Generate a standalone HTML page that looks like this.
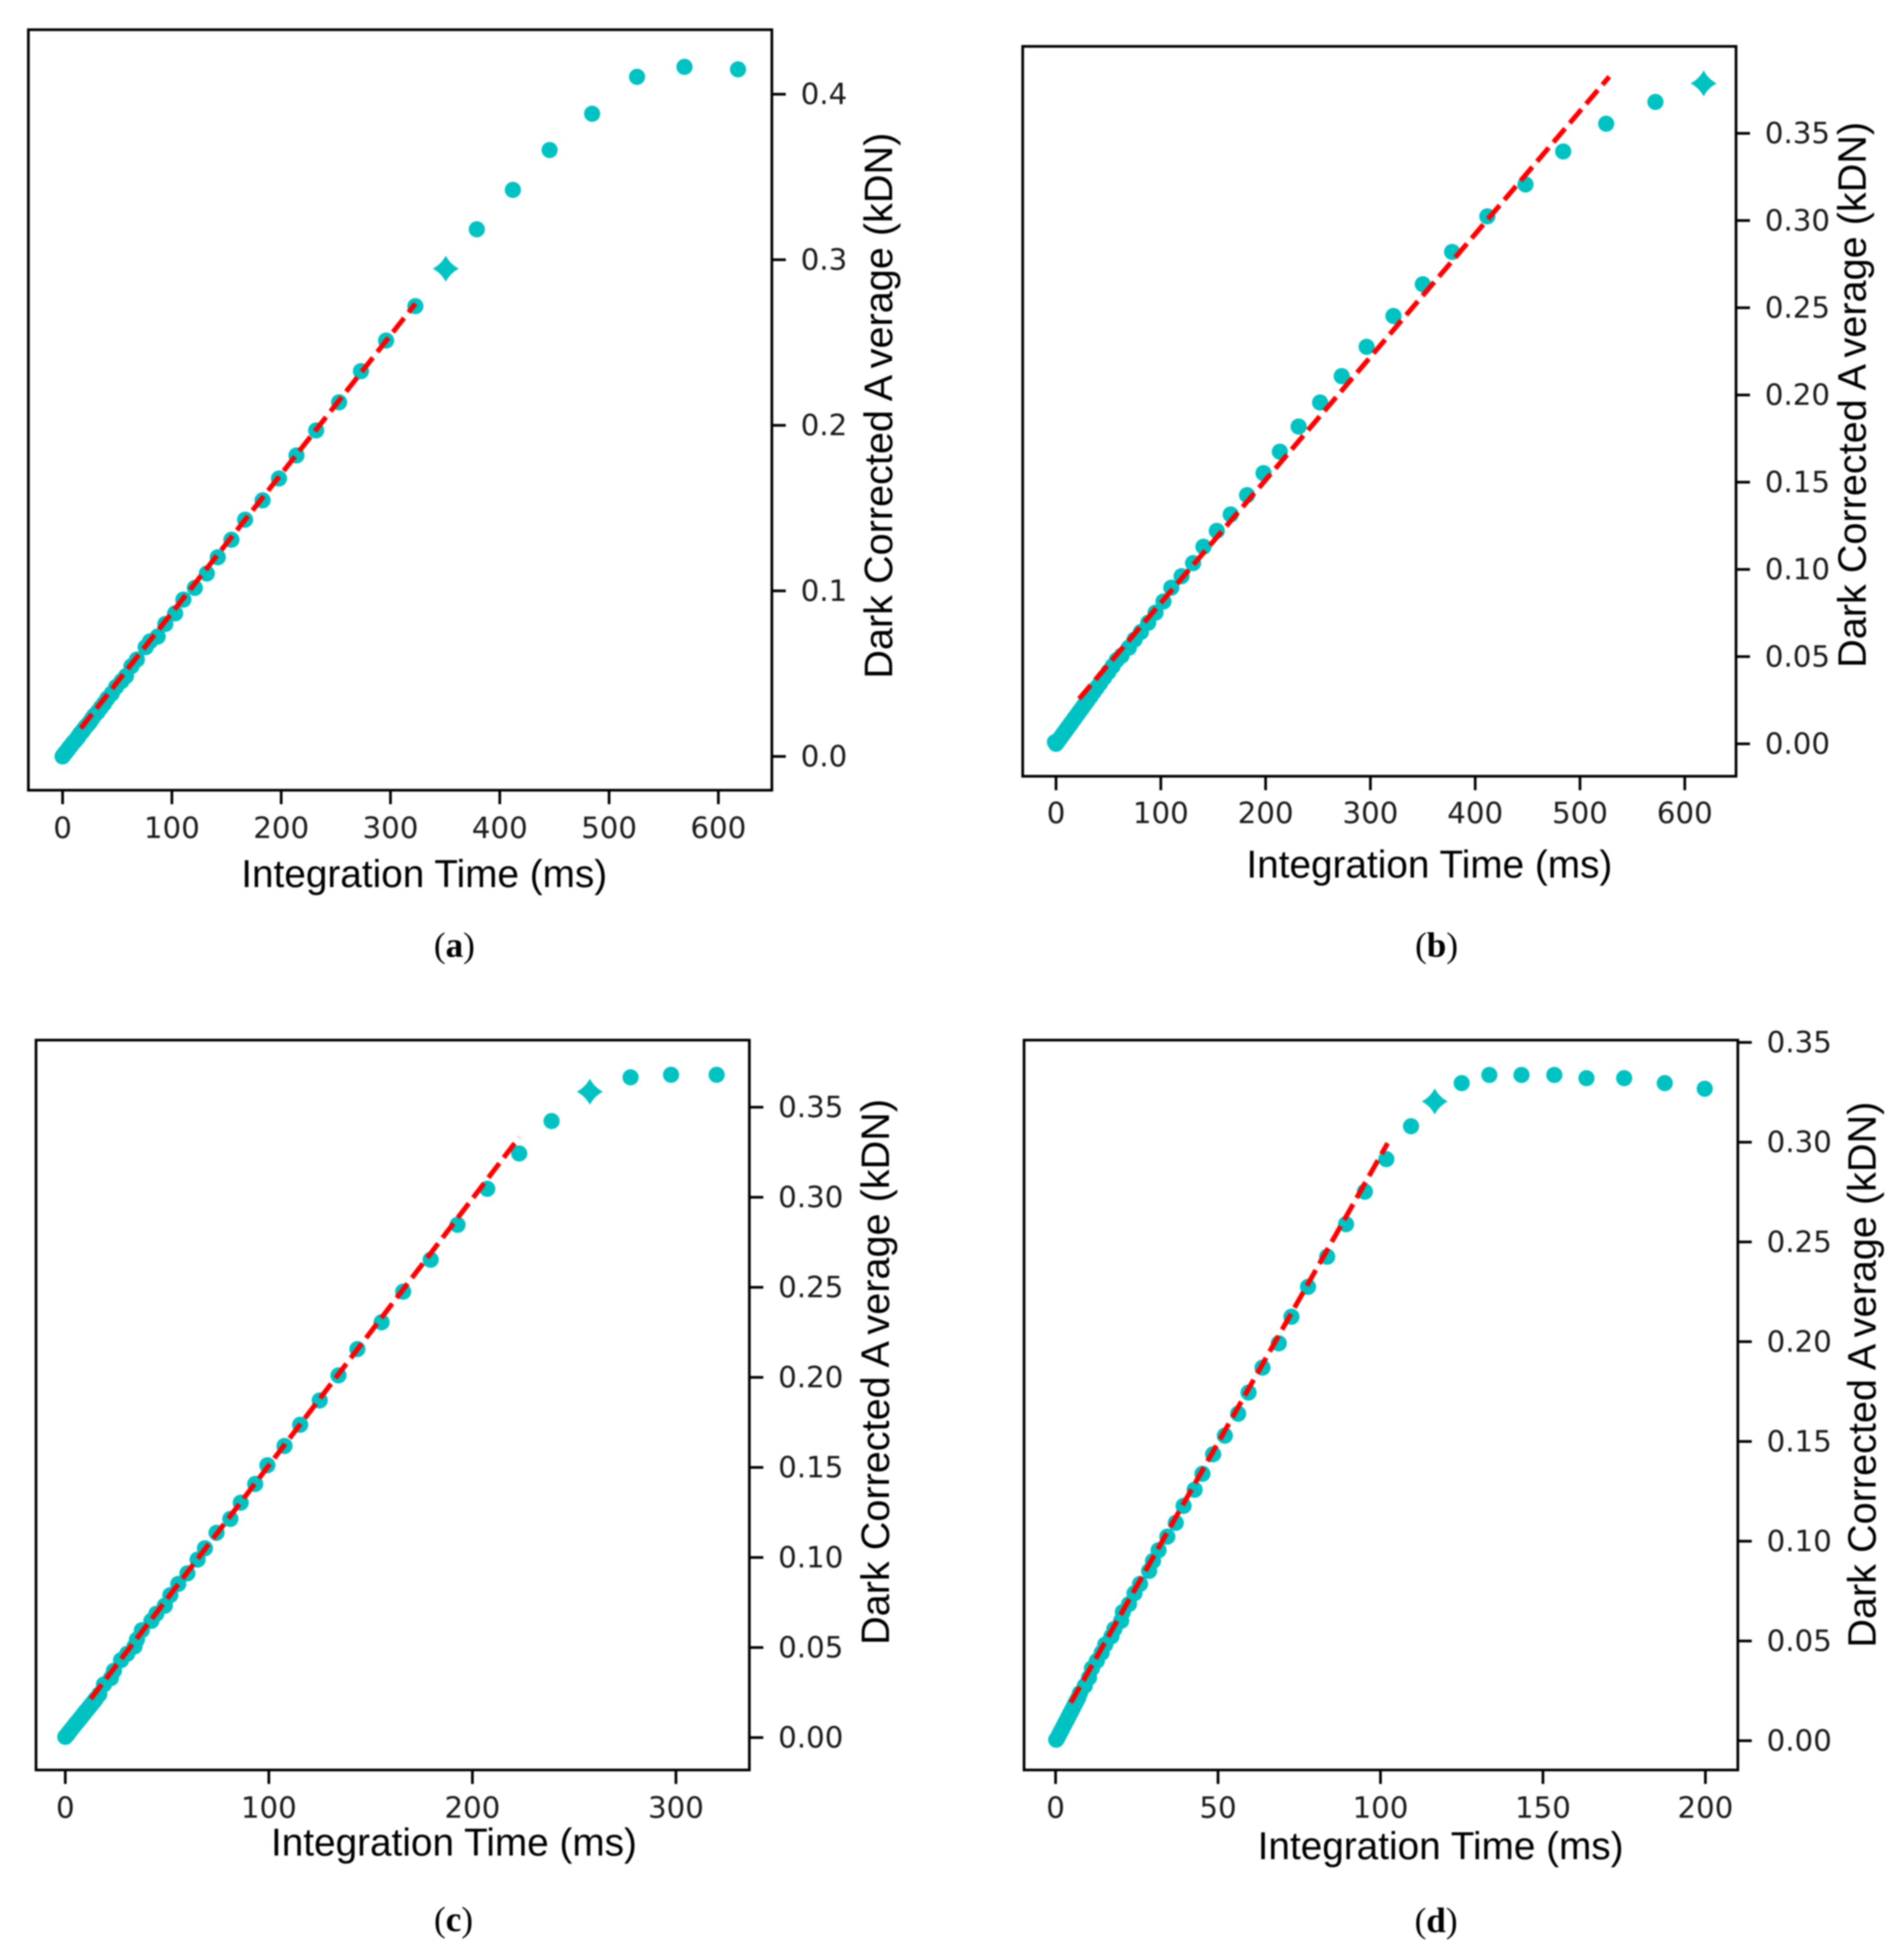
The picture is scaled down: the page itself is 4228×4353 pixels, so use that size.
<!DOCTYPE html>
<html lang="en">
<head>
<meta charset="utf-8">
<title>Dark Corrected Average vs Integration Time</title>
<style>
  html, body { margin: 0; padding: 0; background: #fff; }
  #figure { display: block; filter: blur(1.6px); }
  .tick-label { font-family: "DejaVu Sans", sans-serif; font-size: 65px; fill: #1a1a1a; }
  .axis-label { font-family: "Liberation Sans", sans-serif; font-size: 86px; fill: #000; }
  .axis-label-y { font-size: 88px; }
  .caption { font-family: "Liberation Serif", serif; font-size: 78px; fill: #000; text-anchor: middle; }
  .caption tspan { font-weight: bold; }
</style>
</head>
<body>
<svg id="figure" width="4228" height="4353" viewBox="0 0 4228 4353" xmlns="http://www.w3.org/2000/svg">
  <rect x="0" y="0" width="4228" height="4353" fill="#fff"/>
  <g id="panel-a"></g>
  <g id="panel-b"></g>
  <g id="panel-c"></g>
  <g id="panel-d"></g>

  <text class="axis-label" x="942" y="1970" text-anchor="middle">Integration Time (ms)</text>
  <text class="axis-label axis-label-y" transform="translate(1981 901) rotate(-90)" text-anchor="middle">Dark Corrected A<tspan dx="16">verage (kDN)</tspan></text>
  <text class="caption" x="1009" y="2125">(<tspan>a</tspan>)</text>

  <text class="axis-label" x="3174" y="1949" text-anchor="middle">Integration Time (ms)</text>
  <text class="axis-label axis-label-y" transform="translate(4143 877) rotate(-90)" text-anchor="middle">Dark Corrected A<tspan dx="16">verage (kDN)</tspan></text>
  <text class="caption" x="3190" y="2125">(<tspan>b</tspan>)</text>

  <text class="axis-label" x="1008" y="4121" text-anchor="middle">Integration Time (ms)</text>
  <text class="axis-label axis-label-y" transform="translate(1974 3047) rotate(-90)" text-anchor="middle">Dark Corrected A<tspan dx="16">verage (kDN)</tspan></text>
  <text class="caption" x="1007" y="4289">(<tspan>c</tspan>)</text>

  <text class="axis-label" x="3199" y="4129" text-anchor="middle">Integration Time (ms)</text>
  <text class="axis-label axis-label-y" transform="translate(4165 3053) rotate(-90)" text-anchor="middle">Dark Corrected A<tspan dx="16">verage (kDN)</tspan></text>
  <text class="caption" x="3189" y="4291">(<tspan>d</tspan>)</text>
</svg>

<script>
// ---------- Panel (a) data ----------
const aTimes = [618,569,525.6,484.5,445.6,412,379,350.6,322.8,296,273,253,232,214,198,183,167,154.5,142,132,121,110.5,103,94,87,80,76,68,63,58,54,49,45,41,38,35,32,29,27,25,23,21,19,18,16,15,14,13,12,11,10,9,8,7,6,5,4,3,2,1,0.5,0];
const aValues = [0.415,0.4165,0.4105,0.3882,0.3663,0.3422,0.3184,0.2946,0.272,0.2512,0.2327,0.2139,0.1969,0.1818,0.1679,0.1547,0.143,0.1309,0.1203,0.1105,0.1018,0.0947,0.0864,0.08,0.0724,0.0695,0.066,0.0585,0.0545,0.0485,0.0455,0.042,0.038,0.035,0.032,0.0295,0.0268,0.0247,0.0228,0.0208,0.0192,0.0178,0.0161,0.015,0.0137,0.0125,0.0116,0.0107,0.0099,0.0092,0.0085,0.0077,0.0068,0.006,0.0052,0.0042,0.0034,0.0026,0.0018,0.001,0.0005,0];
const aStarIndex = 7;
const aFitTimes = [16.7,322.8];
const aFitValues = [0.017,0.2735];
const aXTicks = [0,100,200,300,400,500,600];
const aXTickLabels = ["0","100","200","300","400","500","600"];
const aYTicks = [0,0.1,0.2,0.3,0.4];
const aYTickLabels = ["0.0","0.1","0.2","0.3","0.4"];

// ---------- Panel (b) data ----------
const bTimes = [618,572,525,484,448,411.6,378,350,322,296.4,272.6,252,231.5,213.6,198,182.3,166.7,153.4,140.7,130.8,119.8,110,102.5,95,88,81,75,69.5,62.5,58,54,50,46,42,39,36,33,30,28,26,24,22,20,18,17,15,14,13,12,11,10,9,8,7,6,5,4,3,2,1,0.5,-1,0];
const bValues = [0.3786,0.368,0.3555,0.3396,0.3207,0.3024,0.282,0.2635,0.2453,0.2276,0.2108,0.1957,0.1819,0.1675,0.1552,0.1426,0.1315,0.1221,0.113,0.1036,0.0961,0.0895,0.0816,0.0752,0.0694,0.0641,0.0598,0.0551,0.0505,0.048,0.0445,0.0412,0.038,0.0347,0.0322,0.0297,0.0272,0.0248,0.0231,0.0215,0.0198,0.0182,0.0165,0.0149,0.014,0.0124,0.0116,0.0107,0.0099,0.0091,0.0083,0.0074,0.0066,0.0058,0.005,0.0041,0.0033,0.0025,0.0016,0.0008,0.0004,0.001,0];
const bStarIndex = 0;
const bFitTimes = [22,528];
const bFitValues = [0.0258,0.3825];
const bXTicks = [0,100,200,300,400,500,600];
const bXTickLabels = ["0","100","200","300","400","500","600"];
const bYTicks = [0,0.05,0.1,0.15,0.2,0.25,0.3,0.35];
const bYTickLabels = ["0.00","0.05","0.10","0.15","0.20","0.25","0.30","0.35"];

// ---------- Panel (c) data ----------
const cTimes = [320,297.6,277.7,257.7,238.9,223,207.3,192.7,179.5,166,155.4,143.5,134.2,125,115.4,107.7,99.3,93.3,86.2,81.1,74.3,68.6,65,60,55.5,51.6,48.9,44.7,42.3,37.6,35.2,34,30.4,27.4,23.9,22.4,19,16.7,15,14,13,12,11,10,9,8,7,6,5,4,3,2,1.5,1,0.5,0];
const cValues = [0.368,0.368,0.3666,0.3586,0.3423,0.3243,0.3047,0.2847,0.2653,0.2476,0.2306,0.2157,0.2011,0.1872,0.1737,0.1619,0.1512,0.1408,0.1304,0.1214,0.1137,0.1051,0.0988,0.0912,0.0853,0.0791,0.0732,0.0687,0.0648,0.0596,0.0544,0.0506,0.0465,0.043,0.0371,0.033,0.0295,0.024,0.0215,0.02,0.0186,0.0172,0.0158,0.0145,0.013,0.0116,0.0102,0.0088,0.0075,0.006,0.0046,0.0032,0.0024,0.0016,0.001,0.0004];
const cStarIndex = 3;
const cFitTimes = [12.5,223];
const cFitValues = [0.0215,0.3333];
const cXTicks = [0,100,200,300];
const cXTickLabels = ["0","100","200","300"];
const cYTicks = [0,0.05,0.1,0.15,0.2,0.25,0.3,0.35];
const cYTickLabels = ["0.00","0.05","0.10","0.15","0.20","0.25","0.30","0.35"];

// ---------- Panel (d) data ----------
const dTimes = [199.8,187.5,175,163.4,153.5,143.4,133.5,125,116.7,109.4,101.8,95.2,89.4,83.6,77.7,72.6,68.7,63.7,59.4,56.2,52.1,48.5,45.2,42.8,39.4,37,34.4,31.7,30,28.8,26,24.3,22.6,20.7,20.2,18.1,17.2,15.3,14.2,12.7,11.2,10.3,9,7.5,7,6.5,6,5.5,5,4.5,4,3.5,3,2.5,2,1.5,1,0.5,0.2];
const dValues = [0.3268,0.3296,0.3321,0.3321,0.3337,0.3337,0.3337,0.3296,0.3204,0.308,0.2915,0.2752,0.2589,0.2426,0.2275,0.2125,0.1992,0.187,0.1745,0.1639,0.1529,0.1436,0.1338,0.1258,0.1177,0.1092,0.1023,0.0955,0.0901,0.0851,0.0786,0.0739,0.0685,0.0645,0.0601,0.056,0.0523,0.0482,0.0441,0.04,0.0363,0.0316,0.0275,0.0238,0.0215,0.02,0.0185,0.0168,0.0152,0.0137,0.0121,0.0105,0.009,0.0074,0.0058,0.0043,0.0027,0.0012,0.0005];
const dStarIndex = 8;
const dFitTimes = [4.7,102.2];
const dFitValues = [0.0191,0.2995];
const dXTicks = [0,50,100,150,200];
const dXTickLabels = ["0","50","100","150","200"];
const dYTicks = [0,0.05,0.1,0.15,0.2,0.25,0.3,0.35];
const dYTickLabels = ["0.00","0.05","0.10","0.15","0.20","0.25","0.30","0.35"];

// ---------- Drawing ----------
const NS = "http://www.w3.org/2000/svg";
const TEAL = "#00c2c2";
const RED = "#ff0000";
const DOT_R = 18;

const panels = [
  { id: "a", left: 63, right: 1714, top: 66, bottom: 1755, xZero: 139, xPerUnit: 2.427, yZero: 1680, yPerUnit: 3677, xLabelY: 1861,
    times: aTimes, values: aValues, star: aStarIndex, fitT: aFitTimes, fitV: aFitValues, xTicks: aXTicks, xLabels: aXTickLabels, yTicks: aYTicks, yLabels: aYTickLabels },
  { id: "b", left: 2271, right: 3855, top: 103, bottom: 1724, xZero: 2345, xPerUnit: 2.327, yZero: 1652, yPerUnit: 3874, xLabelY: 1828,
    times: bTimes, values: bValues, star: bStarIndex, fitT: bFitTimes, fitV: bFitValues, xTicks: bXTicks, xLabels: bXTickLabels, yTicks: bYTicks, yLabels: bYTickLabels },
  { id: "c", left: 80, right: 1664, top: 2310, bottom: 3931, xZero: 145, xPerUnit: 4.52, yZero: 3859, yPerUnit: 4000, xLabelY: 4037,
    times: cTimes, values: cValues, star: cStarIndex, fitT: cFitTimes, fitV: cFitValues, xTicks: cXTicks, xLabels: cXTickLabels, yTicks: cYTicks, yLabels: cYTickLabels },
  { id: "d", left: 2274, right: 3859, top: 2310, bottom: 3931, xZero: 2344, xPerUnit: 7.215, yZero: 3866, yPerUnit: 4431, xLabelY: 4037,
    times: dTimes, values: dValues, star: dStarIndex, fitT: dFitTimes, fitV: dFitValues, xTicks: dXTicks, xLabels: dXTickLabels, yTicks: dYTicks, yLabels: dYTickLabels }
];

function make(tag, attrs, parent) {
  const node = document.createElementNS(NS, tag);
  for (const key in attrs) node.setAttribute(key, attrs[key]);
  parent.appendChild(node);
  return node;
}

function xScale(p, v) { return p.xZero + v * p.xPerUnit; }
function yScale(p, v) { return p.yZero - v * p.yPerUnit; }

function starPath(cx, cy) {
  const R = 29, c = 10;
  return "M" + cx + "," + (cy - R) +
    " Q" + (cx + c) + "," + (cy - c) + " " + (cx + R) + "," + cy +
    " Q" + (cx + c) + "," + (cy + c) + " " + cx + "," + (cy + R) +
    " Q" + (cx - c) + "," + (cy + c) + " " + (cx - R) + "," + cy +
    " Q" + (cx - c) + "," + (cy - c) + " " + cx + "," + (cy - R) + " Z";
}

panels.forEach(function (p) {
  const g = document.getElementById("panel-" + p.id);

  // data points
  p.times.forEach(function (t, i) {
    const cx = xScale(p, t), cy = yScale(p, p.values[i]);
    let mark;
    if (i === p.star) {
      mark = make("path", { d: starPath(cx, cy), fill: TEAL }, g);
      
    } else {
      mark = make("circle", { cx: cx, cy: cy, r: DOT_R, fill: TEAL }, g);
      
    }
    
  });

  // linear fit
  const fit = make("line", {
    x1: xScale(p, p.fitT[0]), y1: yScale(p, p.fitV[0]),
    x2: xScale(p, p.fitT[1]), y2: yScale(p, p.fitV[1]),
    stroke: RED, "stroke-width": 11, "stroke-dasharray": "40 16", fill: "none"
  }, g);
  
  

  // frame
  const frame = make("rect", {
    x: p.left, y: p.top, width: p.right - p.left, height: p.bottom - p.top,
    fill: "none", stroke: "#000", "stroke-width": 6
  }, g);
  
  

  // x ticks
  p.xTicks.forEach(function (v, i) {
    const x = xScale(p, v);
    const tick = make("line", { x1: x, x2: x, y1: p.bottom, y2: p.bottom + 31, stroke: "#000", "stroke-width": 6 }, g);
    
    
    const label = make("text", { x: x, y: p.xLabelY, "text-anchor": "middle", "class": "tick-label" }, g);
    label.textContent = p.xLabels[i];
    
    
  });

  // y ticks (right side)
  p.yTicks.forEach(function (v, i) {
    const y = yScale(p, v);
    const tick = make("line", { x1: p.right, x2: p.right + 31, y1: y, y2: y, stroke: "#000", "stroke-width": 6 }, g);
    
    
    const label = make("text", { x: p.right + 64, y: y + 22, "class": "tick-label" }, g);
    label.textContent = p.yLabels[i];
    
    
  });
});
</script>
</body>
</html>
